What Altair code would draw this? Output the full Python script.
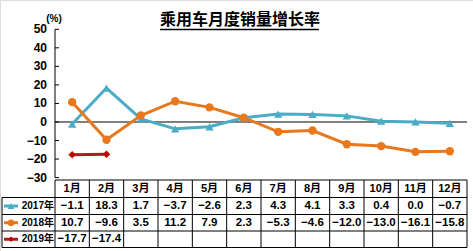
import altair as alt
import pandas as pd

months = ["1月", "2月", "3月", "4月", "5月", "6月", "7月", "8月", "9月", "10月", "11月", "12月"]
s2017 = [-1.1, 18.3, 1.7, -3.7, -2.6, 2.3, 4.3, 4.1, 3.3, 0.4, 0.0, -0.7]
s2018 = [10.7, -9.6, 3.5, 11.2, 7.9, 2.3, -5.3, -4.6, -12.0, -13.0, -16.1, -15.8]
s2019 = [-17.7, -17.4]
series_names = ["2017年", "2018年", "2019年"]
line_colors = ["#4BACC6", "#E8781E", "#A81E1E"]
marker_colors = ["#4BACC6", "#E8781E", "#C00000"]
marker_shapes = ["triangle-up", "circle", "diamond"]
y_ticks = [50, 40, 30, 20, 10, 0, -10, -20, -30]
title_text = "乘用车月度销量增长率"
unit_text = "(%)"

FONT = "Noto Sans CJK SC"
TFONT = "Liberation Sans, Arial, Noto Sans CJK SC"
W, H = 473, 251
X0, X1 = 55, 467
Y_TOP, Y_BOT = 29.3, 177.6
COLW = (X1 - X0) / 12

xs = alt.Scale(domain=[0.5, 12.5], range=[X0, X1], nice=False, zero=False)
ys = alt.Scale(domain=[-30, 50], range=[Y_BOT, Y_TOP], nice=False, zero=False)

def px_to_x(px):
    return 0.5 + (px - X0) / COLW

def px_to_y(py):
    return -30 + (Y_BOT - py) / (Y_BOT - Y_TOP) * 80

X = lambda f: alt.X(f, type="quantitative", scale=xs, axis=None)
Y = lambda f: alt.Y(f, type="quantitative", scale=ys, axis=None)
X2 = lambda f: alt.X2(f)
Y2 = lambda f: alt.Y2(f)

rows = []
all_series = [s2017, s2018, s2019]
for k, (name, vals) in enumerate(zip(series_names, all_series)):
    for i, v in enumerate(vals):
        rows.append({"series": name, "m": i + 1, "v": v})
df = pd.DataFrame(rows)

layers = []

# title
layers.append(alt.Chart(pd.DataFrame({"t": [title_text]})).mark_text(
    font=FONT, fontSize=16, fontWeight="bold", color="black", align="center", baseline="middle"
).encode(text="t:N", x=alt.value(240), y=alt.value(20)))
layers.append(alt.Chart(pd.DataFrame({"a": [0]})).mark_rule(color="black", strokeWidth=1.3).encode(
    x=alt.value(160), x2=alt.value(319), y=alt.value(29.5)))
layers.append(alt.Chart(pd.DataFrame({"t": [unit_text]})).mark_text(
    font=TFONT, fontSize=10, fontWeight="bold", color="black", align="center", baseline="middle"
).encode(text="t:N", x=alt.value(54), y=alt.value(19)))

# y axis manual
tick_df = pd.DataFrame({"v": y_ticks, "lab": [("−" + str(-t)) if t < 0 else str(t) for t in y_ticks],
                        "xa": [px_to_x(X0)] * len(y_ticks), "xb": [px_to_x(X0 + 4)] * len(y_ticks)})
layers.append(alt.Chart(tick_df).mark_text(
    font=TFONT, fontSize=12, fontWeight="bold", color="black", align="right", baseline="middle"
).encode(text="lab:N", x=alt.value(47), y=Y("v")))
layers.append(alt.Chart(tick_df).mark_rule(color="black", strokeWidth=1).encode(
    x=X("xa"), x2=X2("xb"), y=Y("v")))
layers.append(alt.Chart(pd.DataFrame({"a": [-30], "b": [50], "x": [0.5]})).mark_rule(
    color="black", strokeWidth=1).encode(x=X("x"), y=Y("a"), y2=Y2("b")))
layers.append(alt.Chart(pd.DataFrame({"a": [0.5], "b": [12.5], "y": [0]})).mark_rule(
    color="black", strokeWidth=1).encode(x=X("a"), x2=X2("b"), y=Y("y")))

# lines and markers
for k, name in enumerate(series_names):
    sub = df[df.series == name]
    layers.append(alt.Chart(sub).mark_line(color=line_colors[k], strokeWidth=3).encode(
        x=X("m"), y=Y("v"), order="m:Q"))
    layers.append(alt.Chart(sub).mark_point(
        shape=marker_shapes[k], filled=True, opacity=1, color=marker_colors[k],
        size=70 if k < 2 else 55).encode(x=X("m"), y=Y("v")))

# table grid
T_TOP, R1, R2, R3, T_BOT = 180, 197.5, 214.5, 231, 247.5
LEFT = 2
hl = pd.DataFrame({
    "x1": [px_to_x(X0), px_to_x(LEFT), px_to_x(LEFT), px_to_x(LEFT), px_to_x(LEFT)],
    "x2": [12.5] * 5,
    "y": [px_to_y(T_TOP), px_to_y(R1), px_to_y(R2), px_to_y(R3), px_to_y(T_BOT)],
})
layers.append(alt.Chart(hl).mark_rule(color="black", strokeWidth=1).encode(
    x=X("x1"), x2=X2("x2"), y=Y("y")))
vl = pd.DataFrame({
    "x": [0.5 + i for i in range(13)] + [px_to_x(LEFT)],
    "y1": [px_to_y(T_TOP)] * 13 + [px_to_y(R1)],
    "y2": [px_to_y(T_BOT)] * 14,
})
layers.append(alt.Chart(vl).mark_rule(color="black", strokeWidth=1).encode(
    x=X("x"), y=Y("y1"), y2=Y2("y2")))

hdr = pd.DataFrame({"m": list(range(1, 13)), "lab": months, "y": [px_to_y((T_TOP + R1) / 2)] * 12})
layers.append(alt.Chart(hdr).mark_text(
    font=TFONT, fontSize=11, fontWeight="bold", color="black", align="center", baseline="middle"
).encode(text="lab:N", x=X("m"), y=Y("y")))

row_centers = [(R1 + R2) / 2, (R2 + R3) / 2, (R3 + T_BOT) / 2]
cells = []
for k, vals in enumerate(all_series):
    for i, v in enumerate(vals):
        s = f"{abs(v):.1f}"
        cells.append({"m": i + 1, "lab": ("−" + s) if v < 0 else s, "y": px_to_y(row_centers[k])})
cdf = pd.DataFrame(cells)
layers.append(alt.Chart(cdf).mark_text(
    font=TFONT, fontSize=11.5, fontWeight="bold", color="black", align="center", baseline="middle"
).encode(text="lab:N", x=X("m"), y=Y("y")))

for k, name in enumerate(series_names):
    yv = px_to_y(row_centers[k])
    ld = pd.DataFrame({"a": [px_to_x(4)], "b": [px_to_x(18)], "c": [px_to_x(11)], "y": [yv], "t": [name],
                       "tx": [px_to_x(54)]})
    layers.append(alt.Chart(ld).mark_rule(color=line_colors[k], strokeWidth=3).encode(
        x=X("a"), x2=X2("b"), y=Y("y")))
    layers.append(alt.Chart(ld).mark_point(shape=marker_shapes[k], filled=True, opacity=1,
                                           color=marker_colors[k], size=45 if k < 2 else 28).encode(
        x=X("c"), y=Y("y")))
    layers.append(alt.Chart(ld).mark_text(
        font=TFONT, fontSize=10, fontWeight="bold", color="black", align="right", baseline="middle"
    ).encode(text="t:N", x=X("tx"), y=Y("y")))

chart = alt.layer(*layers).properties(
    width=W, height=H, padding=0, autosize=alt.AutoSizeParams(type="none")
).configure_view(stroke=None).configure(background="white")

chart.save("out.html", embed_options={"renderer": "svg", "actions": False})
